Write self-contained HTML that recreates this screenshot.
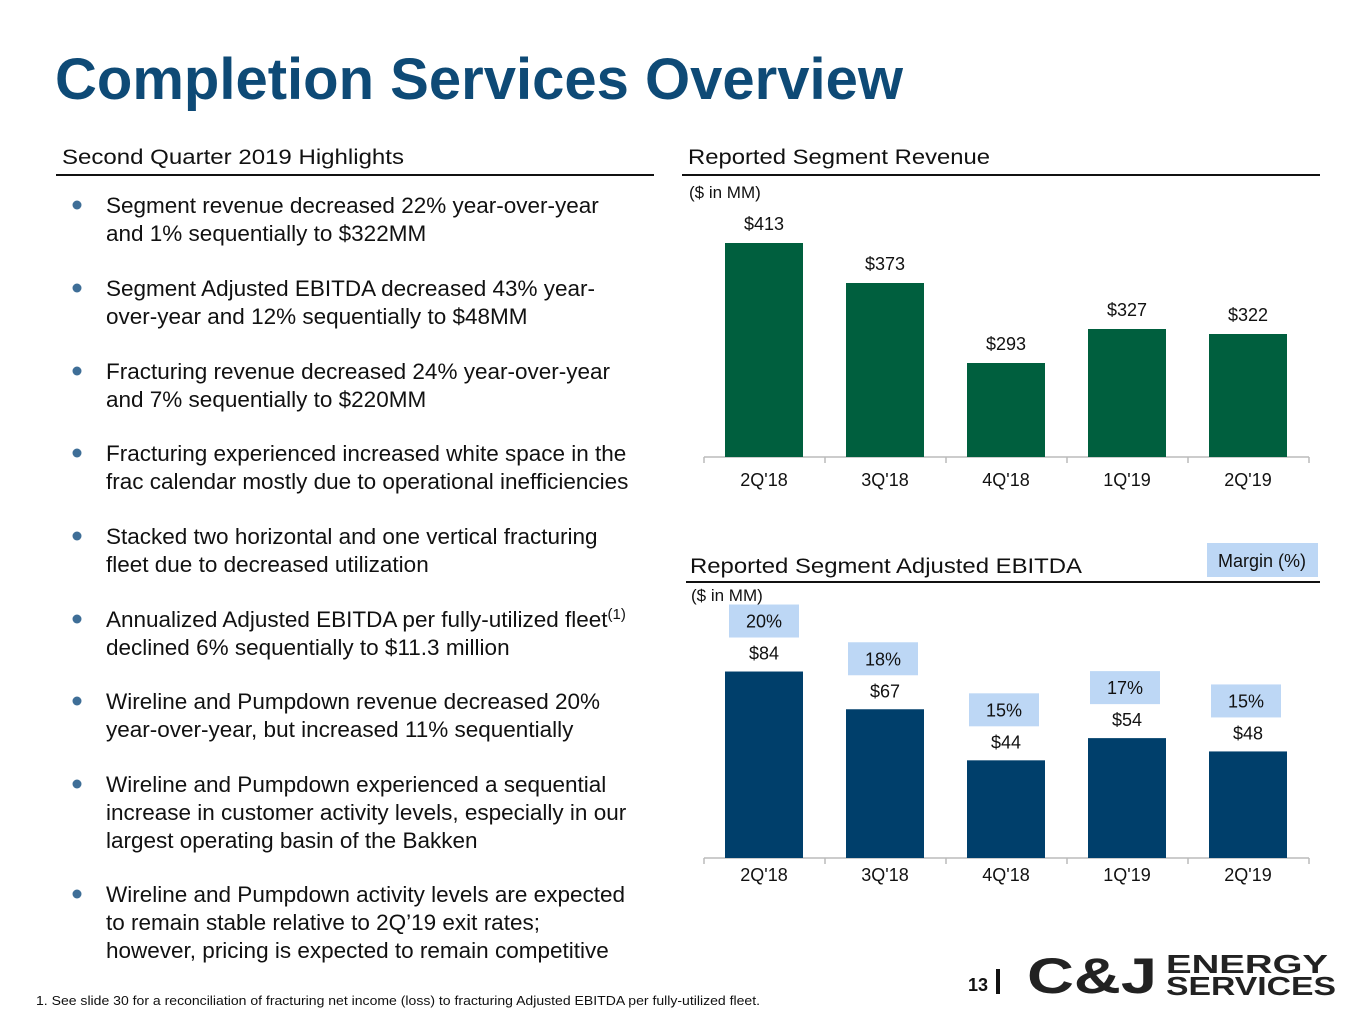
<!DOCTYPE html>
<html><head><meta charset="utf-8"><style>
html,body{margin:0;padding:0;background:#fff;}
svg{display:block;font-family:"Liberation Sans",Arial,sans-serif;}
</style></head><body>
<svg id="page" width="1365" height="1024" viewBox="0 0 1365 1024" xmlns="http://www.w3.org/2000/svg">
<text x="55" y="99" font-size="58" font-weight="bold" fill="#0E4A76" textLength="848" lengthAdjust="spacingAndGlyphs">Completion Services Overview</text>

<text x="62" y="164" font-size="21" fill="#111" textLength="342" lengthAdjust="spacingAndGlyphs">Second Quarter 2019 Highlights</text>
<line x1="56" y1="175" x2="654" y2="175" stroke="#111" stroke-width="2"/>

<g id="bullets" font-size="22.5" fill="#111"></g>

<text x="688" y="164" font-size="21" fill="#111" textLength="302" lengthAdjust="spacingAndGlyphs">Reported Segment Revenue</text>
<line x1="682" y1="175" x2="1320" y2="175" stroke="#111" stroke-width="2"/>
<text x="689" y="198" font-size="17" fill="#111">($ in MM)</text>
<g id="rev"></g>

<text x="690" y="573" font-size="21" fill="#111" textLength="392" lengthAdjust="spacingAndGlyphs">Reported Segment Adjusted EBITDA</text>
<rect x="1207" y="543" width="111" height="34" fill="#BDD7F5"/>
<text x="1262" y="567" font-size="18" fill="#111" text-anchor="middle">Margin (%)</text>
<line x1="686" y1="582" x2="1320" y2="582" stroke="#111" stroke-width="2"/>
<text x="691" y="601" font-size="17" fill="#111">($ in MM)</text>
<g id="ebitda"></g>

<text x="36" y="1005" font-size="13" fill="#111" textLength="724" lengthAdjust="spacingAndGlyphs">1.  See slide 30 for a reconciliation of fracturing net income (loss) to fracturing Adjusted EBITDA per fully-utilized fleet.</text>
<text x="968" y="991" font-size="18" font-weight="bold" fill="#111">13</text>
<rect x="996" y="969" width="4" height="25" fill="#111"/>
<text x="1027" y="993" font-size="50" font-weight="bold" fill="#222" textLength="130" lengthAdjust="spacingAndGlyphs">C&amp;J</text>
<text x="1166" y="973" font-size="26" font-weight="bold" fill="#222" textLength="162" lengthAdjust="spacingAndGlyphs">ENERGY</text>
<text x="1166" y="995" font-size="26" font-weight="bold" fill="#222" textLength="170" lengthAdjust="spacingAndGlyphs">SERVICES</text>
</svg>
<script>
const categories = ["2Q'18","3Q'18","4Q'18","1Q'19","2Q'19"];
const revenueValues = [413,373,293,327,322];
const ebitdaValues = [84,67,44,54,48];
const marginValues = [20,18,15,17,15];

const NS="http://www.w3.org/2000/svg";
function mk(tag,attrs,parent,txt){const e=document.createElementNS(NS,tag);for(const k in attrs)e.setAttribute(k,attrs[k]);if(txt!==undefined)e.textContent=txt;parent.appendChild(e);return e;}

const bulletLines=[
 ["Segment revenue decreased 22% year-over-year","and 1% sequentially to $322MM"],
 ["Segment Adjusted EBITDA decreased 43% year-","over-year and 12% sequentially to $48MM"],
 ["Fracturing revenue decreased 24% year-over-year","and 7% sequentially to $220MM"],
 ["Fracturing experienced increased white space in the","frac calendar mostly due to operational inefficiencies"],
 ["Stacked two horizontal and one vertical fracturing","fleet due to decreased utilization"],
 ["Annualized Adjusted EBITDA per fully-utilized fleet","declined 6% sequentially to $11.3 million"],
 ["Wireline and Pumpdown revenue decreased 20%","year-over-year, but increased 11% sequentially"],
 ["Wireline and Pumpdown experienced a sequential","increase in customer activity levels, especially in our","largest operating basin of the Bakken"],
 ["Wireline and Pumpdown activity levels are expected","to remain stable relative to 2Q\u201919 exit rates;","however, pricing is expected to remain competitive"]
];
const bulletY=[205,288,371,453,536,619,701,784,894];
const bg=document.getElementById('bullets');
bulletLines.forEach((lines,i)=>{
  const c=mk('circle',{cx:77,cy:bulletY[i],r:4.5,fill:'#3E6E97'},bg);
  
  
  lines.forEach((l,j)=>{
    const t=mk('text',{x:106,y:bulletY[i]+8+j*28},bg,l);
    
    
    if(i===5&&j===0){mk('tspan',{dy:-8,'font-size':15},t,'(1)');}
  });
});

function axisX(i){return 764+i*121;}
const rg=document.getElementById('rev');
const revBase=457, revMin=199, revScale=1.0;
function revY(v){return revBase-(v-revMin)*revScale;}
mk('line',{x1:704,y1:revBase,x2:1309,y2:revBase,stroke:'#bbb','stroke-width':1.5},rg);
for(let i=0;i<=5;i++){mk('line',{x1:704+i*121,y1:revBase,x2:704+i*121,y2:revBase+6,stroke:'#bbb','stroke-width':1.5},rg);}
revenueValues.forEach((v,i)=>{
  const y=revY(v);
  const r=mk('rect',{x:axisX(i)-39,y:y,width:78,height:revBase-y,fill:'#005F3E'},rg);
  
  
  const t=mk('text',{x:axisX(i),y:y-13,'font-size':18,'text-anchor':'middle',fill:'#111'},rg,'$'+v);
  
  
  const c=mk('text',{x:axisX(i),y:486,'font-size':18,'text-anchor':'middle',fill:'#111'},rg,categories[i]);
  
  
});

const eg=document.getElementById('ebitda');
const eBase=858, eScale=2.22;
function eY(v){return eBase-v*eScale;}
mk('line',{x1:704,y1:eBase,x2:1309,y2:eBase,stroke:'#bbb','stroke-width':1.5},eg);
for(let i=0;i<=5;i++){mk('line',{x1:704+i*121,y1:eBase,x2:704+i*121,y2:eBase+6,stroke:'#bbb','stroke-width':1.5},eg);}
ebitdaValues.forEach((v,i)=>{
  const y=eY(v);
  const r=mk('rect',{x:axisX(i)-39,y:y,width:78,height:eBase-y,fill:'#003F6B'},eg);
  
  
  const t=mk('text',{x:axisX(i),y:y-12,'font-size':18,'text-anchor':'middle',fill:'#111'},eg,'$'+v);
  
  
  const cx=axisX(i)-(i===0?0:2);
  const b=mk('rect',{x:cx-35,y:y-67,width:70,height:33,fill:'#BDD7F5'},eg);
  
  
  const m=mk('text',{x:cx,y:y-44,'font-size':18,'text-anchor':'middle',fill:'#111'},eg,marginValues[i]+'%');
  
  
  const c=mk('text',{x:axisX(i),y:881,'font-size':18,'text-anchor':'middle',fill:'#111'},eg,categories[i]);
  
  
});
</script>
</body></html>
